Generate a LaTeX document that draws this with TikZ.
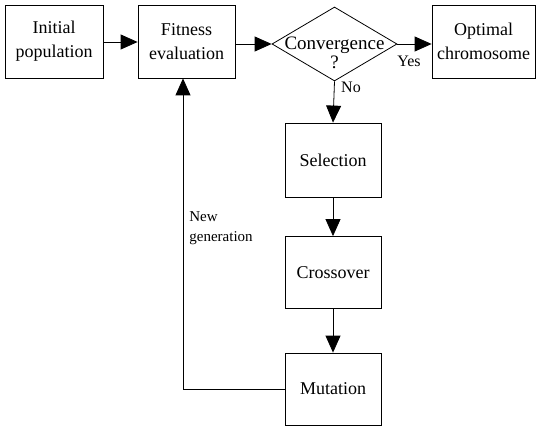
\documentclass[tikz,border=0pt]{standalone}
\usepackage{fontspec}
\setmainfont{Liberation Serif}
\usetikzlibrary{arrows.meta,shapes.geometric}
\begin{document}
\begin{tikzpicture}[x=1pt,y=-1pt,
  line width=0.8pt,
  box/.style={draw,rectangle,inner sep=0pt,align=center,font=\fontsize{18}{24}\selectfont},
  arr/.style={-{Triangle[length=17pt,width=15pt]}},
  lbl/.style={font=\fontsize{16}{18}\selectfont,inner sep=0pt},
  sml/.style={font=\fontsize{15}{20}\selectfont,inner sep=0pt,align=left}]
\useasboundingbox (0,0) rectangle (540,427);
\node[box,minimum width=98pt,minimum height=73pt] (init) at (54,41.5) {Initial\\population};
\node[box,minimum width=97pt,minimum height=73pt] (fit) at (186.5,41.5) {Fitness\\evaluation};
\node[draw,diamond,inner sep=0pt,minimum width=125pt,minimum height=74pt] (conv) at (334.5,44) {};
\node[font=\fontsize{19}{19}\selectfont,align=center,inner sep=0pt] (convt) at (334.5,53) {Convergence\\?};
\node[box,minimum width=103pt,minimum height=73pt] (opt) at (483.5,41.5) {Optimal\\chromosome};
\node[box,minimum width=96pt,minimum height=74pt] (sel) at (333,160) {Selection};
\node[box,minimum width=96pt,minimum height=72pt] (cro) at (333,272.5) {Crossover};
\node[box,minimum width=96pt,minimum height=72pt] (mut) at (333,389) {Mutation};
\draw[arr] (init.east |- 0,42) -- (fit.west |- 0,42);
\draw[arr] (fit.east |- conv.west) -- (conv.west);
\draw[arr] (conv.east) -- (opt.west |- conv.east);
\draw[arr] (conv.south) -- (sel.north);
\draw[arr] (sel) -- (cro);
\draw[arr] (cro) -- (mut);
\coordinate (corner) at (183,389);
\draw[arr] (mut.west) -- (corner) -- (corner |- fit.south);
\node[lbl] (yes) at (409,61) {Yes};
\node[lbl] (no) at (351,87) {No};
\node[sml,anchor=north west] (newgen) at (189,211) {New\\generation};
\end{tikzpicture}
\end{document}
